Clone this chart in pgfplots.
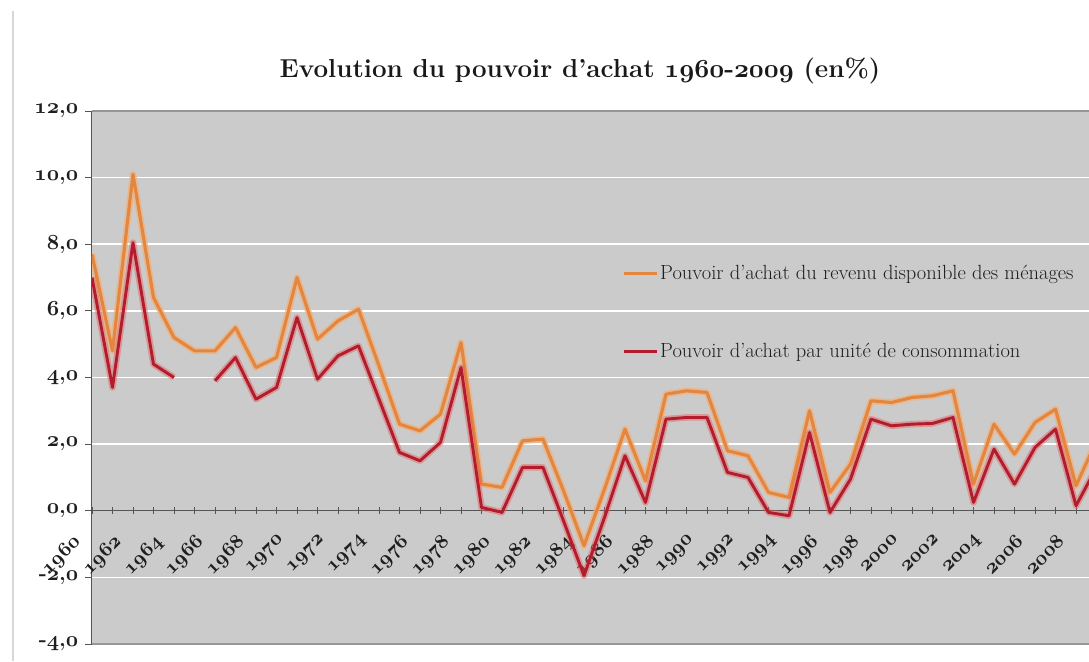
\documentclass[border=0pt]{standalone}
\usepackage{pgfplots}
\usepackage{pgfplotstable}
\pgfplotsset{compat=1.18}
\definecolor{plotbg}{RGB}{203,203,203}
\definecolor{orcore}{RGB}{226,134,64}
\definecolor{orglow}{RGB}{244,176,120}
\definecolor{rdcore}{RGB}{178,28,45}
\definecolor{rdglow}{RGB}{230,90,90}
\definecolor{framegray}{RGB}{150,150,150}
\definecolor{axisdark}{RGB}{85,85,85}
\definecolor{outerframe}{RGB}{215,215,215}
\DeclareFontFamily{OML}{cmmx}{\skewchar\font=127}
\DeclareFontShape{OML}{cmmx}{b}{it}{<->cmmib10}{}
\DeclareFontShape{OML}{cmmx}{m}{it}{<->cmmi10}{}
\newcommand{\osn}[1]{{\usefont{OML}{cmmx}{b}{it}#1}}
\pgfplotstableread{
year rdb uc
1960 7.7 7.0
1961 4.8 3.7
1962 10.1 8.05
1963 6.4 4.4
1964 5.2 4.0
1965 4.8 nan
1966 4.8 3.9
1967 5.5 4.6
1968 4.3 3.35
1969 4.6 3.7
1970 7.0 5.8
1971 5.15 3.95
1972 5.7 4.65
1973 6.05 4.95
1974 4.35 3.35
1975 2.6 1.75
1976 2.4 1.5
1977 2.9 2.05
1978 5.05 4.3
1979 0.8 0.1
1980 0.7 -0.05
1981 2.1 1.3
1982 2.15 1.3
1983 0.6 -0.3
1984 -1.05 -1.95
1985 0.65 -0.2
1986 2.45 1.65
1987 0.9 0.25
1988 3.5 2.75
1989 3.6 2.8
1990 3.55 2.8
1991 1.8 1.15
1992 1.65 1.0
1993 0.55 -0.05
1994 0.4 -0.15
1995 3.0 2.35
1996 0.55 -0.05
1997 1.4 0.95
1998 3.3 2.75
1999 3.25 2.55
2000 3.4 2.6
2001 3.45 2.62
2002 3.6 2.8
2003 0.8 0.25
2004 2.6 1.85
2005 1.7 0.8
2006 2.65 1.9
2007 3.05 2.45
2008 0.75 0.15
2009 2.1 1.3
}\data
\begin{document}
\begin{tikzpicture}
\useasboundingbox (-92pt,-17pt) rectangle (997pt,644pt);
\draw[outerframe, line width=2pt] (-79pt,633pt) -- (-79pt,-17pt);
\node[anchor=base, font=\fontsize{26}{31}\selectfont\bfseries, text=black!90] at (488pt,566pt)
  {Evolution du pouvoir d'achat \osn{1960}-\osn{2009} (en\%)};
\begin{axis}[
  name=ax,
  at={(0pt,0pt)}, anchor=south west,
  scale only axis, width=997pt, height=533pt,
  xmin=1960, xmax=2008.634, ymin=-4, ymax=12,
  axis x line=middle, axis y line=left,
  axis line style={-, draw=axisdark, line width=1pt},
  hide obscured x ticks=false, hide obscured y ticks=false,
  axis background/.style={fill=plotbg},
  no markers, unbounded coords=jump,
  xtick={1960,1962,...,2008},
  minor xtick={1961,1963,...,2007},
  xticklabels={\osn{1960},\osn{1962},\osn{1964},\osn{1966},\osn{1968},\osn{1970},\osn{1972},\osn{1974},\osn{1976},\osn{1978},\osn{1980},\osn{1982},\osn{1984},\osn{1986},\osn{1988},\osn{1990},\osn{1992},\osn{1994},\osn{1996},\osn{1998},\osn{2000},\osn{2002},\osn{2004},\osn{2006},\osn{2008}},
  ytick={-4,-2,...,12},
  yticklabels={{\textbf{-}\osn{4}\textbf{,}\osn{0}},{\textbf{-}\osn{2}\textbf{,}\osn{0}},{\osn{0}\textbf{,}\osn{0}},{\osn{2}\textbf{,}\osn{0}},{\osn{4}\textbf{,}\osn{0}},{\osn{6}\textbf{,}\osn{0}},{\osn{8}\textbf{,}\osn{0}},{\osn{10}\textbf{,}\osn{0}},{\osn{12}\textbf{,}\osn{0}}},
  ymajorgrids,
  major grid style={white, line width=1.5pt},
  tick align=center,
  major tick length=7pt, minor tick length=7pt,
  tick style={draw=axisdark, line width=0.9pt},
  every major y tick/.append style={xshift=-3.5pt},
  xticklabel style={font=\fontsize{20}{24}\selectfont\bfseries, xshift=-20pt, yshift=-19pt, rotate=45, anchor=north east, inner sep=0pt, text=black!88},
  yticklabel style={font=\fontsize{21.5}{25}\selectfont\bfseries, anchor=east, inner sep=0pt, xshift=-10pt, text=black!88},
  legend style={draw=none, fill=none, at={(0.5316,0.622)}, anchor=west,
    inner sep=0pt, row sep=58pt, font=\fontsize{20.5}{24}\selectfont,
    nodes={inner sep=2pt, text=black!88}},
  legend image code/.code={\draw[#1, line width=3pt] (0pt,0pt) -- (33pt,0pt);},
  legend cell align=left,
]
\addplot[forget plot, draw=orglow, opacity=0.7, line width=6.5pt, line join=round] table[x=year,y=rdb]{\data};
\addplot[draw=orcore, line width=3.1pt, line join=round] table[x=year,y=rdb]{\data};
\addlegendentry{Pouvoir d'achat du revenu disponible des ménages}
\addplot[forget plot, draw=rdglow, opacity=0.45, line width=6.5pt, line join=round] table[x=year,y=uc]{\data};
\addplot[draw=rdcore, line width=2.9pt, line join=round] table[x=year,y=uc]{\data};
\addlegendentry{Pouvoir d'achat par unité de consommation}
\end{axis}
\draw[framegray, line width=1.6pt] (ax.north west) -- (ax.north east);
\draw[framegray, line width=1.6pt] (ax.south west) -- (ax.south east);
\end{tikzpicture}
\end{document}
